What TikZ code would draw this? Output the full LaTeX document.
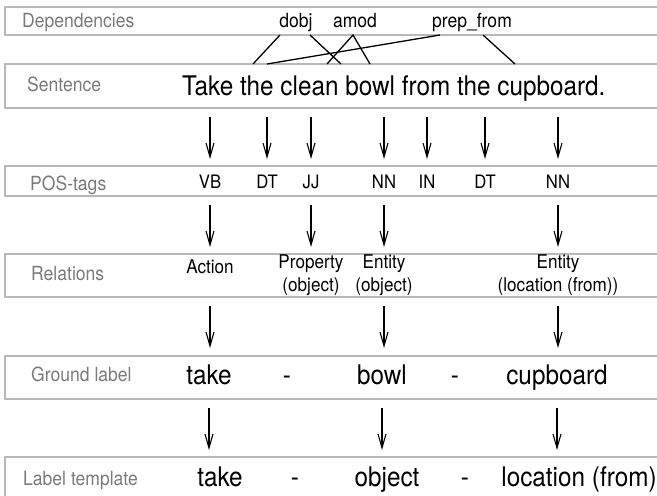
\documentclass[tikz,border=0pt]{standalone}
\usepackage{fontspec}
\setmainfont{TeX Gyre Heros}[FakeStretch=0.9]
\usetikzlibrary{arrows.meta}
\definecolor{boxgray}{HTML}{B8B8B8}
\definecolor{labgray}{HTML}{7A7A7A}
\begin{document}
\begin{tikzpicture}[x=1pt,y=-1pt,
  rowbox/.style={draw=boxgray,line width=1.3pt},
  rowlab/.style={text=labgray,font=\fontsize{19.5}{22}\selectfont,anchor=base west,inner sep=0pt},
  bigtxt/.style={font=\fontsize{27}{30}\selectfont,anchor=base,inner sep=0pt},
  deptxt/.style={font=\fontsize{19.5}{22}\selectfont,anchor=base,inner sep=0pt},
  postxt/.style={font=\fontsize{18.5}{21}\selectfont,anchor=base,inner sep=0pt},
  reltxt/.style={font=\fontsize{19}{21}\selectfont,anchor=base,inner sep=0pt},
  arr/.style={-{Straight Barb[length=14pt,width=8pt]},line width=1.1pt},
  depline/.style={line width=1.3pt}]
\useasboundingbox (0,0) rectangle (657,496);
% row frames (open to the right)
\draw[rowbox] (665,7) -- (5,7) -- (5,35) -- (665,35);
\draw[rowbox] (665,64) -- (5,64) -- (5,108) -- (665,108);
\draw[rowbox] (665,166) -- (5,166) -- (5,196) -- (665,196);
\draw[rowbox] (665,254) -- (5,254) -- (5,297) -- (665,297);
\draw[rowbox] (665,356) -- (5,356) -- (5,399) -- (665,399);
\draw[rowbox] (665,457) -- (5,457) -- (5,505);
% row labels
\node[rowlab] (ldep) at (22,27) {Dependencies};
\node[rowlab] (lsen) at (27,91) {Sentence};
\node[rowlab] (lpos) at (30,190) {POS-tags};
\node[rowlab] (lrel) at (31,280) {Relations};
\node[rowlab] (lgro) at (31,381) {Ground label};
\node[rowlab] (ltem) at (23,485) {Label template};
% dependencies
\node[deptxt] (dobj) at (296,27) {dobj};
\node[deptxt] (amod) at (355,27) {amod};
\node[deptxt] (prep) at (472,27) {prep\_from};
\coordinate (da) at (280,35); \coordinate (ea) at (253,64);
\coordinate (db) at (310,35); \coordinate (eb) at (341,64);
\coordinate (dc) at (353,35); \coordinate (ec) at (327,64);
\coordinate (ed) at (370,64);
\coordinate (de) at (440,35); \coordinate (ee) at (267,64);
\coordinate (df) at (483,35); \coordinate (ef) at (515,64);
\draw[depline] (da) -- (ea);
\draw[depline] (db) -- (eb);
\draw[depline] (ec) -- (dc) -- (ed);
\draw[depline] (de) -- (ee);
\draw[depline] (df) -- (ef);
% sentence
\node[bigtxt,anchor=base west] (sent) at (182,95) {Take the clean bowl from the cupboard.};
% POS tags
\node[postxt] (p1) at (210,188) {VB};
\node[postxt] (p2) at (267,188) {DT};
\node[postxt] (p3) at (311,188) {JJ};
\node[postxt] (p4) at (384,188) {NN};
\node[postxt] (p5) at (427,188) {IN};
\node[postxt] (p6) at (485,188) {DT};
\node[postxt] (p7) at (558,188) {NN};
% relations
\node[reltxt] (r1) at (210,273) {Action};
\node[reltxt] (r2) at (311,268) {Property};
\node[reltxt] (r2b) at (311,291) {(object)};
\node[reltxt] (r3) at (384,268) {Entity};
\node[reltxt] (r3b) at (384,291) {(object)};
\node[reltxt] (r4) at (558,268) {Entity};
\node[reltxt] (r4b) at (558,291) {(location (from))};
% ground label
\node[bigtxt] (g1) at (209,384) {take};
\node[bigtxt] (g2) at (287,384) {-};
\node[bigtxt] (g3) at (382,384) {bowl};
\node[bigtxt] (g4) at (455,384) {-};
\node[bigtxt] (g5) at (557,384) {cupboard};
% label template
\node[bigtxt] (t1) at (220,486) {take};
\node[bigtxt] (t2) at (295,486) {-};
\node[bigtxt] (t3) at (387,486) {object};
\node[bigtxt] (t4) at (465,486) {-};
\node[bigtxt] (t5) at (579,486) {location (from)};
% arrow levels
\coordinate (a1t) at (0,117); \coordinate (a1b) at (0,159);
\coordinate (a2t) at (0,205); \coordinate (a2b) at (0,247);
\coordinate (a3t) at (0,306); \coordinate (a3b) at (0,348);
\coordinate (a4t) at (0,408); \coordinate (a4b) at (0,450);
\foreach \n in {p1,p2,p3,p4,p5,p6,p7}{\draw[arr] (\n |- a1t) -- (\n |- a1b);}
\foreach \n in {p1,p3,p4,p7}{\draw[arr] (\n |- a2t) -- (\n |- a2b);}
\foreach \n in {r1,r3,r4}{\draw[arr] (\n |- a3t) -- (\n |- a3b);}
\foreach \n in {g1,g3,g5}{\draw[arr] (\n |- a4t) -- (\n |- a4b);}
\end{tikzpicture}
\end{document}
